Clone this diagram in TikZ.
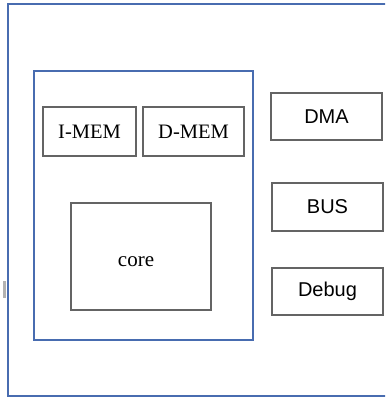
\documentclass[tikz,border=0pt]{standalone}
\usepackage{fontspec}
\setmainfont{Liberation Serif}
\newfontfamily\sansf{Liberation Sans}
\definecolor{frameblue}{RGB}{72,108,176}
\definecolor{boxgray}{RGB}{100,100,100}
\begin{document}
\begin{tikzpicture}[x=1pt,y=-1pt,
  graybox/.style={draw=boxgray,line width=1.5pt,inner sep=0pt,minimum width=#1},
  serifbox/.style={graybox=#1,font=\fontsize{20.5}{22}\selectfont},
  sansbox/.style={graybox=#1,font=\sansf\fontsize{20}{22}\selectfont}]
\useasboundingbox (0,0) rectangle (385,398);
\clip (0,0) rectangle (385,398);
% outer frame (right side beyond picture)
\draw[frameblue,line width=2pt] (400,4.5) -- (7.5,4.5) -- (7.5,396) -- (400,396);
% small grey mark at left
\fill[gray!60] (3,281) rectangle (6.2,298);
% inner core frame
\node[draw=frameblue,line width=2pt,minimum width=219,minimum height=269,inner sep=0pt] (cpu) at (143.5,205.5) {};
\node[serifbox=93,minimum height=49] (imem) at (89.5,131.5) {I-MEM};
\node[serifbox=101,minimum height=49] (dmem) at (193.5,131.5) {D-MEM};
\node[graybox=140,minimum height=107] (core) at (141,256.5) {};
\node[font=\fontsize{21}{22}\selectfont,inner sep=0pt] (corelbl) at (136,262) {core};
\node[sansbox=111,minimum height=47] (dma) at (326.5,116.5) {DMA};
\node[sansbox=111,minimum height=48] (bus) at (327.5,207) {BUS};
\node[sansbox=111,minimum height=47] (debug) at (327.5,291.5) {Debug};
\end{tikzpicture}
\end{document}
